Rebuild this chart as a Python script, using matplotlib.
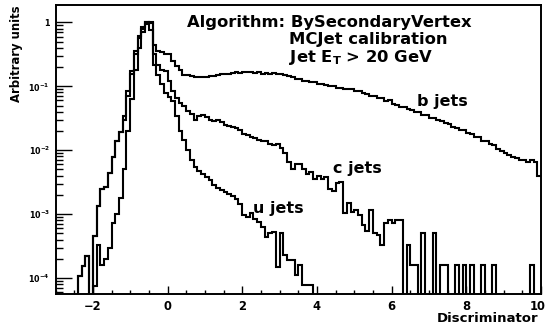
import numpy as np
import matplotlib
matplotlib.use('Agg')
import matplotlib.pyplot as plt
import matplotlib.transforms as mtransforms
from matplotlib.ticker import FixedLocator, FixedFormatter, LogLocator, NullFormatter, MultipleLocator

# ---------------- data ----------------
# Histogram binning of the discriminator axis
x_min, x_max, n_bins = -3.0, 10.0, 130

# Bin contents as log10(arbitrary units); None = empty bin.
# Each row holds 10 consecutive bins (one unit of discriminator).
N = None
b_log10 = [
    N, N, N, N, N, N, -3.97, -3.81, -3.66, N,                                   # -3.0 .. -2.1
    -3.35, -2.88, -2.60, -2.58, -2.35, -2.10, -1.86, -1.72, -1.52, -1.15,        # -2.0 .. -1.1
    -0.80, -0.50, -0.25, -0.10, 0.00, -0.12, -0.36, -0.45, -0.47, -0.49,         # -1.0 .. -0.1
    -0.50, -0.61, -0.69, -0.74, -0.82, -0.83, -0.84, -0.85, -0.85, -0.86,        #  0.0 ..  0.9
    -0.85, -0.84, -0.84, -0.82, -0.81, -0.80, -0.80, -0.79, -0.78, -0.79,        #  1.0 ..  1.9
    -0.77, -0.78, -0.77, -0.79, -0.78, -0.80, -0.79, -0.80, -0.79, -0.81,        #  2.0 ..  2.9
    -0.81, -0.83, -0.84, -0.86, -0.88, -0.88, -0.91, -0.91, -0.94, -0.93,        #  3.0 ..  3.9
    -0.96, -0.97, -0.98, -1.00, -0.99, -1.02, -1.02, -1.04, -1.05, -1.05,        #  4.0 ..  4.9
    -1.08, -1.08, -1.11, -1.12, -1.15, -1.15, -1.19, -1.19, -1.23, -1.22,        #  5.0 ..  5.9
    -1.27, -1.29, -1.33, -1.32, -1.36, -1.37, -1.40, -1.40, -1.45, -1.45,        #  6.0 ..  6.9
    -1.49, -1.49, -1.53, -1.54, -1.58, -1.59, -1.64, -1.65, -1.69, -1.69,        #  7.0 ..  7.9
    -1.73, -1.74, -1.79, -1.79, -1.85, -1.86, -1.91, -1.92, -1.98, -2.01,        #  8.0 ..  8.9
    -2.05, -2.07, -2.11, -2.12, -2.15, -2.15, -2.19, -2.15, -2.18, -2.41,        #  9.0 ..  9.9
]
c_log10 = [
    N, N, N, N, N, N, -3.97, -3.81, -3.66, N,
    -3.35, -2.88, -2.60, -2.58, -2.35, -2.10, -1.86, -1.72, -1.47, -1.07,
    -0.76, -0.45, -0.22, -0.07, 0.00, -0.01, -0.50, -0.66, -0.74, -0.76,
    -0.92, -1.08, -1.18, -1.26, -1.31, -1.39, -1.44, -1.52, -1.47, -1.45,
    -1.48, -1.52, -1.55, -1.53, -1.56, -1.60, -1.62, -1.64, -1.66, -1.69,
    -1.74, -1.76, -1.79, -1.81, -1.84, -1.86, -1.85, -1.90, -1.92, -1.90,
    -1.96, -2.04, -2.18, -2.30, -2.22, -2.22, -2.30, -2.38, -2.34, -2.45,
    -2.40, -2.45, -2.42, -2.60, -2.64, -2.52, -2.50, -2.98, -2.83, -2.96,
    -2.94, -3.01, -3.17, -3.27, -2.93, -3.30, -3.32, -3.48, -3.14, -3.09,
    -3.14, -3.09, -3.09, N, -3.48, -3.80, -3.80, N, -3.30, N,
    N, -3.30, N, -3.80, -3.80, N, N, -3.80, N, -3.80,
    N, -3.80, N, N, -3.80, N, N, -3.80, N, N,
    N, N, N, N, N, N, N, -3.80, N, N,
]
u_log10 = [
    N, N, N, N, N, N, N, N, N, N,
    -4.12, -3.48, -3.80, -3.70, -3.53, -3.14, -3.00, -2.75, -2.30, -1.70,
    -1.20, -0.75, -0.40, -0.15, -0.02, 0.00, -0.66, -0.82, -0.97, -1.10,
    -1.16, -1.23, -1.47, -1.70, -1.84, -1.99, -2.15, -2.27, -2.33, -2.38,
    -2.42, -2.47, -2.55, -2.59, -2.62, -2.65, -2.68, -2.72, -2.76, -2.84,
    -3.02, -3.05, -2.98, -3.08, -3.12, -3.20, -3.36, -3.30, -3.28, -3.82,
    -3.30, -3.64, -3.72, -3.72, -3.95, -3.80, -4.11, -4.11, -4.11, N,
    N, N, N, N, N, N, N, N, N, N,
    N, N, N, N, N, N, N, N, N, N,
    N, N, N, N, N, N, N, N, N, N,
    N, N, N, N, N, N, N, N, N, N,
    N, N, N, N, N, N, N, N, N, N,
    N, N, N, N, N, N, N, N, N, N,
]

series_names = ['b jets', 'c jets', 'u jets']
x_tick_values = [-2, 0, 2, 4, 6, 8, 10]
y_tick_values = [1e-4, 1e-3, 1e-2, 1e-1, 1.0]
y_tick_labels = [r'$10^{-4}$', r'$10^{-3}$', r'$10^{-2}$', r'$10^{-1}$', '1']
header_lines = ['Algorithm: BySecondaryVertex', 'MCJet calibration', r'Jet $E_T$ > 20 GeV']
x_title = 'Discriminator'
y_title = 'Arbitrary units'
y_limits = (10 ** -4.25, 10 ** 0.28)

# ---------------- style ----------------
plt.rcParams['font.family'] = ['DejaVu Sans']
plt.rcParams['font.weight'] = 'bold'
plt.rcParams['mathtext.default'] = 'bf'

W, H = 547, 331
fig = plt.figure(figsize=(W / 100, H / 100), dpi=100)
fig.patch.set_facecolor('white')

def fx(px):
    return px / W

def fy(py):
    return 1 - py / H

ax = fig.add_axes([fx(55.5), fy(294), fx(541) - fx(55.5), fy(4.5) - fy(294)])

edges = np.linspace(x_min, x_max, n_bins + 1)

def to_linear(arr):
    return np.array([0.0 if v is None else 10.0 ** v for v in arr])

for arr in (b_log10, c_log10, u_log10):
    ax.stairs(to_linear(arr), edges, baseline=None, color='black', linewidth=1.5)

ax.set_yscale('log', nonpositive='clip')
ax.set_xlim(x_min, x_max)
ax.set_ylim(*y_limits)

ax.xaxis.set_major_locator(FixedLocator(x_tick_values))
ax.xaxis.set_minor_locator(MultipleLocator(0.5))
ax.yaxis.set_major_locator(FixedLocator(y_tick_values))
ax.yaxis.set_major_formatter(FixedFormatter(y_tick_labels))
ax.yaxis.set_minor_locator(LogLocator(base=10, subs=np.arange(2, 10)))
ax.yaxis.set_minor_formatter(NullFormatter())

ax.tick_params(axis='x', which='major', direction='in', length=5.8, width=1.0,
               labelsize=8.3, pad=4.0, top=False)
ax.tick_params(axis='x', which='minor', direction='in', length=2.9, width=1.0, top=False)
ax.tick_params(axis='y', which='major', direction='in', length=11.5, width=1.0,
               labelsize=5.8, pad=4.0, right=False)
ax.tick_params(axis='y', which='minor', direction='in', length=5.0, width=1.0, right=False)
for sp in ax.spines.values():
    sp.set_linewidth(1.4)

# keep the last x tick label ("10") inside the canvas
fig.canvas.draw()
last_lbl = ax.xaxis.get_major_ticks()[-1].label1
last_lbl.set_horizontalalignment('right')
last_lbl.set_transform(last_lbl.get_transform() +
                       mtransforms.ScaledTranslation(5 / 100, 0, fig.dpi_scale_trans))

# header text
fig.text(fx(187), fy(26.5), header_lines[0], ha='left', va='baseline', fontsize=11.8, fontweight='bold')
fig.text(fx(289), fy(44), header_lines[1], ha='left', va='baseline', fontsize=11.8, fontweight='bold')
fig.text(fx(289), fy(62), header_lines[2], ha='left', va='baseline', fontsize=11.8, fontweight='bold')

# series labels
fig.text(fx(417), fy(106), series_names[0], ha='left', va='baseline', fontsize=11.5, fontweight='bold')
fig.text(fx(333), fy(173), series_names[1], ha='left', va='baseline', fontsize=11.5, fontweight='bold')
fig.text(fx(253), fy(213.5), series_names[2], ha='left', va='baseline', fontsize=11.5, fontweight='bold')

# axis titles
fig.text(fx(538), fy(311.5), x_title, ha='right', va='top', fontsize=9.5, fontweight='bold')
fig.text(fx(16.5), fy(5), y_title, ha='center', va='top', rotation=90, fontsize=8.4, fontweight='bold')

fig.savefig('out.png', dpi=100, facecolor='white')
